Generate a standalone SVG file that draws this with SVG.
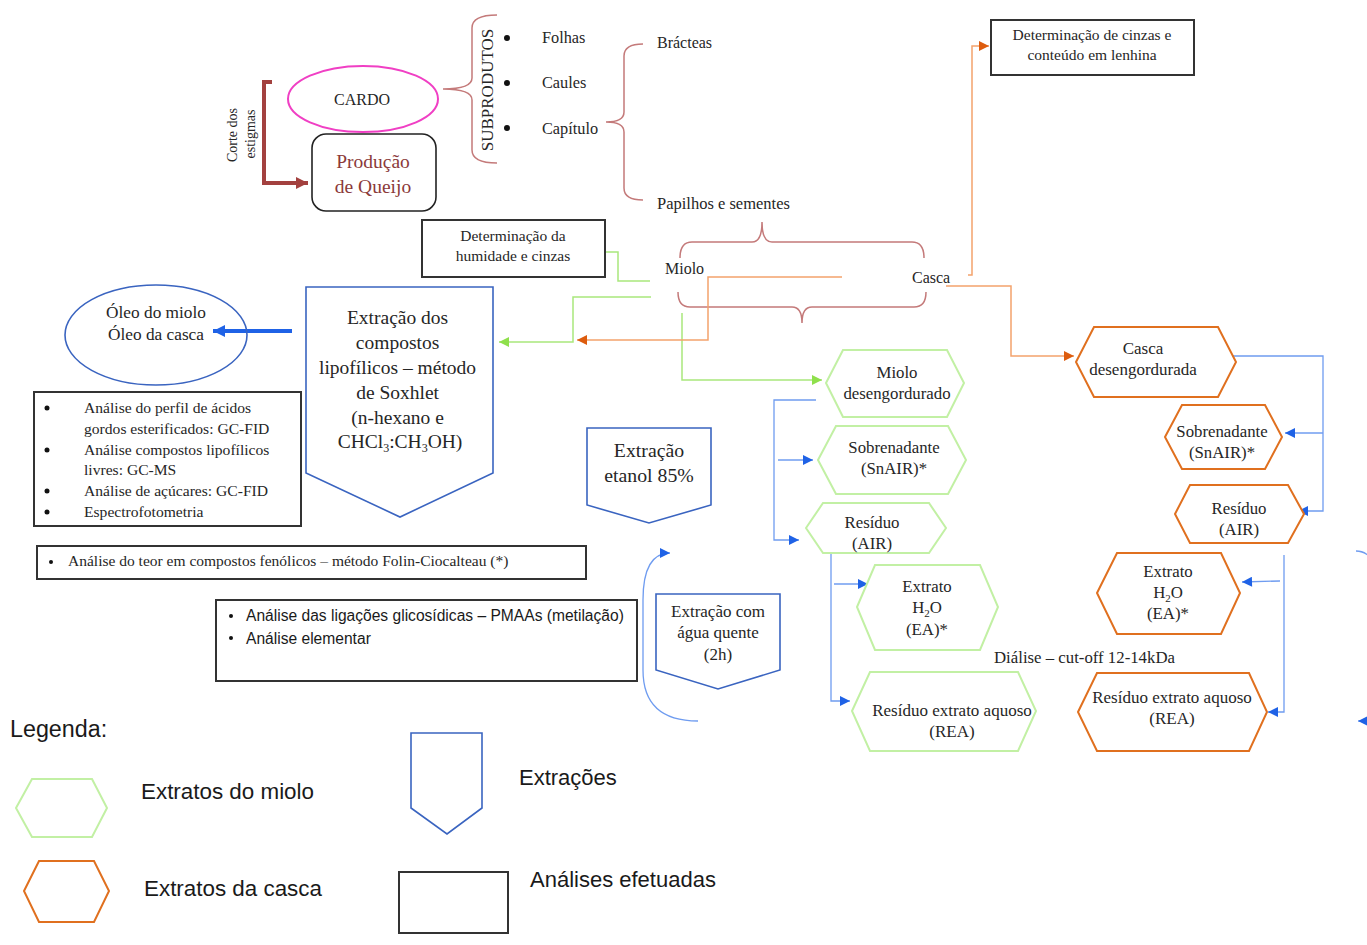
<svg xmlns="http://www.w3.org/2000/svg" width="1367" height="945" viewBox="0 0 1367 945">
<defs>
<style>
.s{font-family:"Liberation Serif",serif;fill:#262626}
.ss{font-family:"Liberation Sans",Arial,sans-serif;fill:#1a1a1a}
.c{text-anchor:middle}
.h{font-size:16.8px}
.lt{font-size:22.4px}
.box{fill:#fff;stroke:#333;stroke-width:2}
.gh{fill:#fff;stroke:#c2f0a4;stroke-width:2}
.oh{fill:#fff;stroke:#e0701f;stroke-width:2}
.pb{fill:#fff;stroke:#3a64c0;stroke-width:1.6}
.br{fill:none;stroke:#c47a7a;stroke-width:1.5}
.lg{fill:none;stroke:#a9e87c;stroke-width:1.5}
.lo{fill:none;stroke:#f4a36c;stroke-width:1.5}
.lb{fill:none;stroke:#6f9cf0;stroke-width:1.3}
</style>
<marker id="ag" viewBox="0 0 10 10" refX="10" refY="5" markerWidth="11" markerHeight="10" markerUnits="userSpaceOnUse" orient="auto"><path d="M0,0 L10,5 L0,10 Z" fill="#8fe04c"/></marker>
<marker id="ao" viewBox="0 0 10 10" refX="10" refY="5" markerWidth="11" markerHeight="10" markerUnits="userSpaceOnUse" orient="auto"><path d="M0,0 L10,5 L0,10 Z" fill="#dd5c0e"/></marker>
<marker id="ab" viewBox="0 0 10 10" refX="10" refY="5" markerWidth="11" markerHeight="10" markerUnits="userSpaceOnUse" orient="auto"><path d="M0,0 L10,5 L0,10 Z" fill="#1f62e6"/></marker>
<marker id="abb" viewBox="0 0 10 10" refX="10" refY="5" markerWidth="14" markerHeight="12" markerUnits="userSpaceOnUse" orient="auto"><path d="M0,0 L10,5 L0,10 Z" fill="#1f62e6"/></marker>
<marker id="ar" viewBox="0 0 10 10" refX="10" refY="5" markerWidth="13" markerHeight="12" markerUnits="userSpaceOnUse" orient="auto"><path d="M0,0 L10,5 L0,10 Z" fill="#a3413f"/></marker>
</defs>
<rect width="1367" height="945" fill="#fff"/>

<g id="connectors">
<path d="M272,82 L264,82 L264,183 L308,183" fill="none" stroke="#a3413f" stroke-width="4" marker-end="url(#ar)"/>
<path class="br" d="M497,15 Q472,15 472,28 L472,78 Q472,89 443,89 Q472,89 472,100 L472,150 Q472,163 497,163"/>
<path class="br" d="M643,44 Q624,44 624,56 L624,112 Q624,122 606,122 Q624,122 624,132 L624,188 Q624,200 643,200"/>
<path class="br" d="M680,258 Q680,242 692,242 L752,242 Q762,242 762,222 Q762,242 772,242 L912,242 Q924,242 924,258"/>
<path class="br" d="M678,292 Q678,307 690,307 L792,307 Q802,307 802,323 Q802,307 812,307 L914,307 Q926,307 926,292"/>
<path class="lg" d="M650,281 L618,281 L618,252 L588,252" marker-end="url(#ag)"/>
<path class="lg" d="M651,297 L573,297 L573,342 L499,342" marker-end="url(#ag)"/>
<path class="lg" d="M682,313 L682,380 L822,380" marker-end="url(#ag)"/>
<path class="lo" d="M842,277 L708,277 L708,340 L577,340" marker-end="url(#ao)"/>
<path class="lo" d="M968,275 L972,275 L972,46 L989,46" marker-end="url(#ao)"/>
<path class="lo" d="M946,286 L1011,286 L1011,356 L1074,356" marker-end="url(#ao)"/>
<path d="M292,331 L213,331" stroke="#1f62e6" stroke-width="4" fill="none" marker-end="url(#abb)"/>
<path class="lb" d="M816,400 L774,400 L774,540 L799,540" marker-end="url(#ab)"/>
<path class="lb" d="M778,460 L813,460" marker-end="url(#ab)"/>
<path class="lb" d="M831,553 L831,701 L850,701" marker-end="url(#ab)"/>
<path class="lb" d="M834,584 L868,584" marker-end="url(#ab)"/>
<path class="lb" d="M1214,356 L1323,356 L1323,511 L1298,511" marker-end="url(#ab)"/>
<path class="lb" d="M1323,433 L1285,433" marker-end="url(#ab)"/>
<path class="lb" d="M1280,581 L1242,582" marker-end="url(#ab)"/>
<path class="lb" d="M1284,555 L1284,712 L1268,712" marker-end="url(#ab)"/>
<path class="lb" d="M698,721 Q643,721 643,670 L643,600 Q643,553 670,553" marker-end="url(#ab)"/>
<path class="lb" d="M1356,551 Q1364,551 1370,557"/>
<path class="lb" d="M1372,721 L1358,721" marker-end="url(#ab)"/>
</g>

<g id="corte">
<text class="s c" font-size="14" transform="translate(237,135) rotate(-90)">Corte dos</text>
<text class="s c" font-size="14" transform="translate(255,134) rotate(-90)">estigmas</text>
</g>

<g id="cardo">
<ellipse cx="363" cy="99" rx="75" ry="33" fill="#fff" stroke="#f03fc4" stroke-width="2"/>
<text class="s c" x="362" y="105" font-size="16">CARDO</text>
</g>

<g id="queijo">
<rect x="312" y="134" width="124" height="77" rx="14" fill="#fff" stroke="#222" stroke-width="1.6"/>
<text class="c" x="373" y="168" font-size="19.5" font-family="Liberation Serif,serif" fill="#8b3a3a">Produção</text>
<text class="c" x="373" y="193" font-size="19.5" font-family="Liberation Serif,serif" fill="#8b3a3a">de Queijo</text>
</g>

<g id="subprodutos">
<text class="s c" font-size="17" transform="translate(493,90) rotate(-90)">SUBPRODUTOS</text>
<circle cx="507" cy="38" r="3" fill="#111"/>
<circle cx="507" cy="83" r="3" fill="#111"/>
<circle cx="507" cy="128" r="3" fill="#111"/>
<text class="s" x="542" y="43" font-size="16.3">Folhas</text>
<text class="s" x="542" y="88" font-size="16.3">Caules</text>
<text class="s" x="542" y="134" font-size="16.3">Capítulo</text>
</g>

<g id="capitulo-parts">
<text class="s" x="657" y="48" font-size="16">Brácteas</text>
<text class="s" x="657" y="209" font-size="16.5">Papilhos e sementes</text>
<text class="s" x="665" y="274" font-size="16">Miolo</text>
<text class="s" x="912" y="283" font-size="16">Casca</text>
</g>

<g id="humidade">
<rect class="box" x="422" y="220" width="183" height="57"/>
<text class="s c" x="513" y="241" font-size="15.5">Determinação da</text>
<text class="s c" x="513" y="261" font-size="15.5">humidade e cinzas</text>
</g>

<g id="lenhina">
<rect class="box" x="991" y="20" width="203" height="55"/>
<text class="s c" x="1092" y="40" font-size="15.5">Determinação de cinzas e</text>
<text class="s c" x="1092" y="60" font-size="15.5">conteúdo em lenhina</text>
</g>

<g id="soxhlet">
<polygon class="pb" points="306,287 493,287 493,473 400,517 306,473"/>
<text class="s c" font-size="19.5">
<tspan x="400" y="324">Extração dos</tspan>
<tspan x="400" y="349">compostos</tspan>
<tspan x="400" y="374">lipofílicos – método</tspan>
<tspan x="400" y="399">de Soxhlet</tspan>
<tspan x="400" y="424">(n-hexano e</tspan>
<tspan x="400" y="448">CHCl<tspan font-size="12" dy="4">3</tspan><tspan dy="-4">:CH</tspan><tspan font-size="12" dy="4">3</tspan><tspan dy="-4">OH)</tspan></tspan>
</text>
</g>

<g id="oleo">
<ellipse cx="156" cy="335" rx="91" ry="50" fill="none" stroke="#3a64c0" stroke-width="1.6"/>
<text class="s c" x="156" y="318" font-size="17.3">Óleo do miolo</text>
<text class="s c" x="156" y="340" font-size="17.3">Óleo da casca</text>
</g>

<g id="analises-lipo">
<rect class="box" x="34" y="392" width="267" height="134"/>
<g fill="#111"><circle cx="47" cy="408" r="2.5"/><circle cx="47" cy="450" r="2.5"/><circle cx="47" cy="491" r="2.5"/><circle cx="47" cy="512" r="2.5"/></g>
<text class="s" font-size="15.6">
<tspan x="84" y="413">Análise do perfil de ácidos</tspan>
<tspan x="84" y="434">gordos esterificados: GC-FID</tspan>
<tspan x="84" y="455">Análise compostos lipofílicos</tspan>
<tspan x="84" y="475">livres: GC-MS</tspan>
<tspan x="84" y="496">Análise de açúcares: GC-FID</tspan>
<tspan x="84" y="517">Espectrofotometria</tspan>
</text>
</g>

<g id="fenolicos">
<rect class="box" x="37" y="546" width="549" height="33"/>
<circle cx="51" cy="562" r="2" fill="#111"/>
<text class="s" x="68" y="566" font-size="15.5">Análise do teor em compostos fenólicos – método Folin-Ciocalteau (*)</text>
</g>

<g id="glicosidicas">
<rect class="box" x="216" y="600" width="421" height="81"/>
<circle cx="231" cy="616" r="2" fill="#111"/>
<circle cx="231" cy="638" r="2" fill="#111"/>
<text class="ss" x="246" y="621" font-size="15.6">Análise das ligações glicosídicas – PMAAs (metilação)</text>
<text class="ss" x="246" y="644" font-size="15.6">Análise elementar</text>
</g>

<g id="etanol">
<polygon class="pb" points="587,428 711,428 711,505 649,523 587,505"/>
<text class="s c" x="649" y="457" font-size="19.8">Extração</text>
<text class="s c" x="649" y="482" font-size="19.8">etanol 85%</text>
</g>

<g id="agua-quente">
<polygon class="pb" points="656,594 780,594 780,670 718,689 656,670"/>
<text class="s c" x="718" y="617" font-size="17">Extração com</text>
<text class="s c" x="718" y="638" font-size="17">água quente</text>
<text class="s c" x="718" y="660" font-size="17">(2h)</text>
</g>

<g id="miolo-desengordurado">
<polygon class="gh" points="826,383 843,350 947,350 964,383 947,417 843,417"/>
<text class="s c h" x="897" y="378">Miolo</text>
<text class="s c h" x="897" y="399">desengordurado</text>
</g>
<g id="miolo-snair">
<polygon class="gh" points="818,460 836,426 948,426 966,460 948,494 836,494"/>
<text class="s c h" x="894" y="453">Sobrenadante</text>
<text class="s c h" x="894" y="474">(SnAIR)*</text>
</g>
<g id="miolo-air">
<polygon class="gh" points="806,528 823,503 929,503 946,528 929,553 823,553"/>
<text class="s c h" x="872" y="528">Resíduo</text>
<text class="s c h" x="872" y="549">(AIR)</text>
</g>
<g id="miolo-ea">
<polygon class="gh" points="857,607 875,565 980,565 998,607 980,650 875,650"/>
<text class="s c h" x="927" y="592">Extrato</text>
<text class="s c h" x="927" y="613">H<tspan font-size="11" dy="4">2</tspan><tspan dy="-4">O</tspan></text>
<text class="s c h" x="927" y="635">(EA)*</text>
</g>
<g id="miolo-rea">
<polygon class="gh" points="852,711 870,672 1018,672 1036,711 1018,751 870,751"/>
<text class="s c" x="952" y="716" font-size="17">Resíduo extrato aquoso</text>
<text class="s c" x="952" y="737" font-size="17">(REA)</text>
</g>

<g id="casca-desengordurada">
<polygon class="oh" points="1076,362 1094,327 1218,327 1236,362 1218,397 1094,397"/>
<text class="s c" x="1143" y="354" font-size="17">Casca</text>
<text class="s c" x="1143" y="375" font-size="17">desengordurada</text>
</g>
<g id="casca-snair">
<polygon class="oh" points="1165,437 1182,405 1265,405 1282,437 1265,469 1182,469"/>
<text class="s c h" x="1222" y="437">Sobrenadante</text>
<text class="s c h" x="1222" y="458">(SnAIR)*</text>
</g>
<g id="casca-air">
<polygon class="oh" points="1175,514 1190,485 1288,485 1304,514 1288,543 1190,543"/>
<text class="s c h" x="1239" y="514">Resíduo</text>
<text class="s c h" x="1239" y="535">(AIR)</text>
</g>
<g id="casca-ea">
<polygon class="oh" points="1097,593 1117,553 1221,553 1240,593 1221,634 1117,634"/>
<text class="s c h" x="1168" y="577">Extrato</text>
<text class="s c h" x="1168" y="598">H<tspan font-size="11" dy="4">2</tspan><tspan dy="-4">O</tspan></text>
<text class="s c h" x="1168" y="619">(EA)*</text>
</g>
<g id="casca-rea">
<polygon class="oh" points="1078,712 1097,673 1249,673 1267,712 1249,751 1097,751"/>
<text class="s c" x="1172" y="703" font-size="17">Resíduo extrato aquoso</text>
<text class="s c" x="1172" y="724" font-size="17">(REA)</text>
</g>

<g id="dialise">
<text class="s" x="994" y="663" font-size="16.8">Diálise – cut-off 12-14kDa</text>
</g>

<g id="legenda">
<text class="ss" x="10" y="737" font-size="23.3">Legenda:</text>
<polygon class="gh" points="16,808 32,779 92,779 107,808 92,837 32,837"/>
<text class="ss lt" x="141" y="799">Extratos do miolo</text>
<polygon class="oh" points="24,891 39,861 94,861 109,891 94,922 39,922"/>
<text class="ss lt" x="144" y="896">Extratos da casca</text>
<polygon class="pb" points="411,733 482,733 482,808 447,834 411,808"/>
<text class="ss" x="519" y="785" font-size="22">Extrações</text>
<rect class="box" x="399" y="872" width="109" height="61" stroke-width="1.6"/>
<text class="ss" x="530" y="887" font-size="22">Análises efetuadas</text>
</g>
</svg>
